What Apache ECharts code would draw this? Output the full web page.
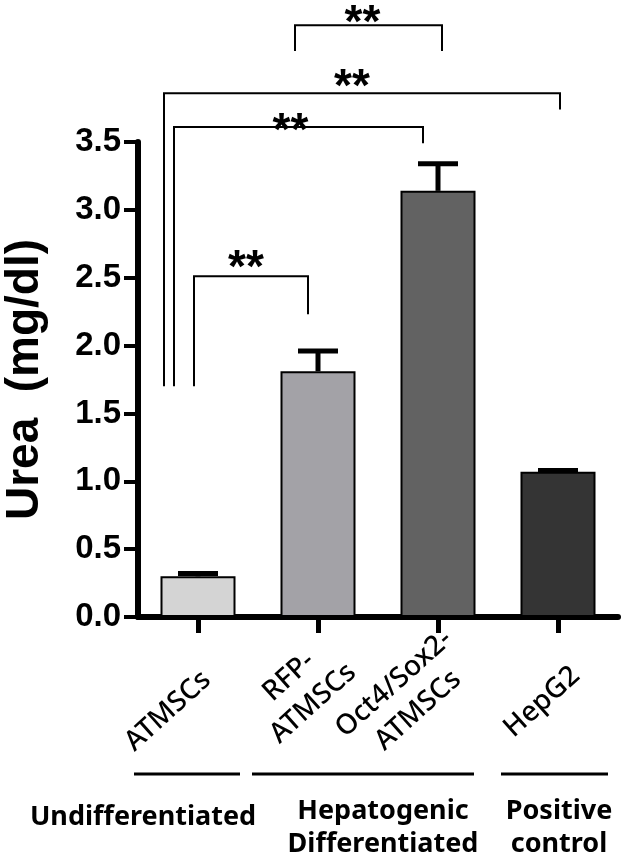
<!DOCTYPE html>
<html>
<head>
<meta charset="utf-8">
<script src="https://cdn.jsdelivr.net/npm/echarts@6/dist/echarts.min.js"></script>
<style>
  html, body { margin: 0; padding: 0; background: #fff; }
  #main { width: 625px; height: 861px; }
</style>
</head>
<body>
<div id="main"></div>
<script>
// data
var categories = ['ATMSCs', 'RFP-\nATMSCs', 'Oct4/Sox2-\nATMSCs', 'HepG2'];
var urea = [0.30, 1.81, 3.14, 1.07];
var ureaErr = [0.02, 0.15, 0.20, 0.01];
var yMin = 0, yMax = 3.5, yStep = 0.5;

// significance brackets: [fromCat, toCat, top, leftEnd, rightEnd]
var brackets = [
    [1, 2, 4.36, 4.17, 4.17],
    [0, 3, 3.86, 1.70, 3.74],
    [0, 2, 3.61, 1.70, 3.49],
    [0, 1, 2.51, 1.70, 2.23]
];
var bracketMarks = ['**', '**', '**', '**'];

var groups = ['Undifferentiated', 'Hepatogenic\nDifferentiated', 'Positive\ncontrol'];
var groupSpans = [[0, 0], [1, 2], [3, 3]];

// styling
var barColors = ['#d4d4d4', '#a3a2a7', '#626262', '#343434'];
var bracketDx = [[-23, 4], [-34, 2], [-24, -15], [-4, -10]];
var starOff = [[-6, -13], [-10, -17], [-8, -7], [-5, -19]];
var labelOff = [[-30, 94], [-17, 73], [-32, 80], [-16, 85]];
var groupLineDx = [[-64, 42], [-66, 36], [-57, 50]];
var groupTextOff = [[-55, 200], [65, 211], [1, 211]];

var myChart = echarts.init(document.getElementById('main'));

var barData = []
for (var i = 0; i < urea.length; i++) {
    barData.push({ value: urea[i], itemStyle: { color: barColors[i] } })
}
var errData = []
for (i = 0; i < urea.length; i++) {
    errData.push([i, urea[i], ureaErr[i]])
}
var catIdx = []
for (i = 0; i < categories.length; i++) catIdx.push([i, 0])
var groupData = []
for (i = 0; i < groups.length; i++) groupData.push([groupSpans[i][0], groupSpans[i][1]])

var option = {
    animation: false,
    grid: { left: 138, right: 7, top: 142, bottom: 244, containLabel: false, outerBoundsMode: 'none' },
    xAxis: {
        type: 'category',
        data: categories,
        axisLine: { lineStyle: { color: '#000', width: 6 } },
        axisTick: { show: true, interval: 0, alignWithLabel: true, length: 16, lineStyle: { color: '#000', width: 5 } },
        axisLabel: { show: true, interval: 0, color: 'rgba(0,0,0,0)', formatter: function () { return ' ' } }
    },
    yAxis: {
        type: 'value',
        min: yMin,
        max: yMax,
        interval: yStep,
        name: 'Urea  (mg/dl)',
        nameLocation: 'middle',
        nameRotate: 90,
        nameGap: 90,
        nameMoveOverlap: false,
        nameTextStyle: { color: '#000', fontFamily: 'Liberation Sans', fontWeight: 'bold', fontSize: 46 },
        splitLine: { show: false },
        axisLine: { show: true, lineStyle: { color: '#000', width: 6 } },
        axisTick: { show: true, length: 14, lineStyle: { color: '#000', width: 4 } },
        axisLabel: {
            margin: 17,
            color: '#000',
            fontFamily: 'Liberation Sans',
            fontWeight: 'bold',
            fontSize: 33,
            formatter: function (v) { return v.toFixed(1) }
        }
    },
    series: [{
        type: 'bar',
        barWidth: 75,
        data: barData,
        itemStyle: { borderColor: '#000', borderWidth: 2 }
    }, {
        // error bars (upper only)
        type: 'custom',
        z: 5,
        data: errData,
        renderItem: function (params, api) {
            var base = api.coord([api.value(0), api.value(1)]);
            var top = api.coord([api.value(0), api.value(1) + api.value(2)]);
            var st = { stroke: '#000', lineWidth: 5 };
            return {
                type: 'group',
                children: [
                    { type: 'line', shape: { x1: base[0], y1: base[1], x2: top[0], y2: top[1] }, style: st },
                    { type: 'line', shape: { x1: top[0] - 20, y1: top[1], x2: top[0] + 20, y2: top[1] }, style: st }
                ]
            };
        }
    }, {
        // significance brackets
        type: 'custom',
        clip: false,
        z: 6,
        data: brackets,
        renderItem: function (params, api) {
            var k = params.dataIndex;
            var b = brackets[k];
            var lt = api.coord([b[0], b[2]]);
            var rt = api.coord([b[1], b[2]]);
            var lb = api.coord([b[0], b[3]]);
            var rb = api.coord([b[1], b[4]]);
            var x1 = lt[0] + bracketDx[k][0], x2 = rt[0] + bracketDx[k][1];
            return {
                type: 'group',
                children: [{
                    type: 'polyline',
                    shape: { points: [[x1, lb[1]], [x1, lt[1]], [x2, rt[1]], [x2, rb[1]]] },
                    style: { stroke: '#000', lineWidth: 2, fill: null }
                }, {
                    type: 'text',
                    x: (x1 + x2) / 2 + starOff[k][0],
                    y: lt[1] + starOff[k][1] + 12,
                    style: {
                        text: bracketMarks[k],
                        fill: '#000',
                        font: 'bold 46px "Liberation Sans"',
                        align: 'center',
                        verticalAlign: 'middle'
                    }
                }]
            };
        }
    }, {
        // rotated category labels
        type: 'custom',
        clip: false,
        data: catIdx,
        renderItem: function (params, api) {
            var k = params.dataIndex;
            var p = api.coord([api.value(0), 0]);
            return {
                type: 'text',
                x: p[0] + labelOff[k][0],
                y: p[1] + labelOff[k][1],
                rotation: 42 * Math.PI / 180,
                style: {
                    text: categories[k],
                    fill: '#000',
                    font: '500 28px "Noto Sans"',
                    lineHeight: 36,
                    align: 'center',
                    verticalAlign: 'middle'
                }
            };
        }
    }, {
        // group lines and names
        type: 'custom',
        clip: false,
        data: groupData,
        renderItem: function (params, api) {
            var k = params.dataIndex;
            var a = api.coord([api.value(0), 0]);
            var b = api.coord([api.value(1), 0]);
            return {
                type: 'group',
                children: [{
                    type: 'line',
                    shape: { x1: a[0] + groupLineDx[k][0], y1: a[1] + 157, x2: b[0] + groupLineDx[k][1], y2: a[1] + 157 },
                    style: { stroke: '#000', lineWidth: 3 }
                }, {
                    type: 'text',
                    x: a[0] + groupTextOff[k][0],
                    y: a[1] + groupTextOff[k][1],
                    style: {
                        text: groups[k],
                        fill: '#000',
                        font: 'bold 27px "Noto Sans"',
                        lineHeight: 33,
                        align: 'center',
                        verticalAlign: 'middle'
                    }
                }]
            };
        }
    }]
};
myChart.setOption(option);
window.onresize = function () {
    myChart.resize()
}
</script>
</body>
</html>
